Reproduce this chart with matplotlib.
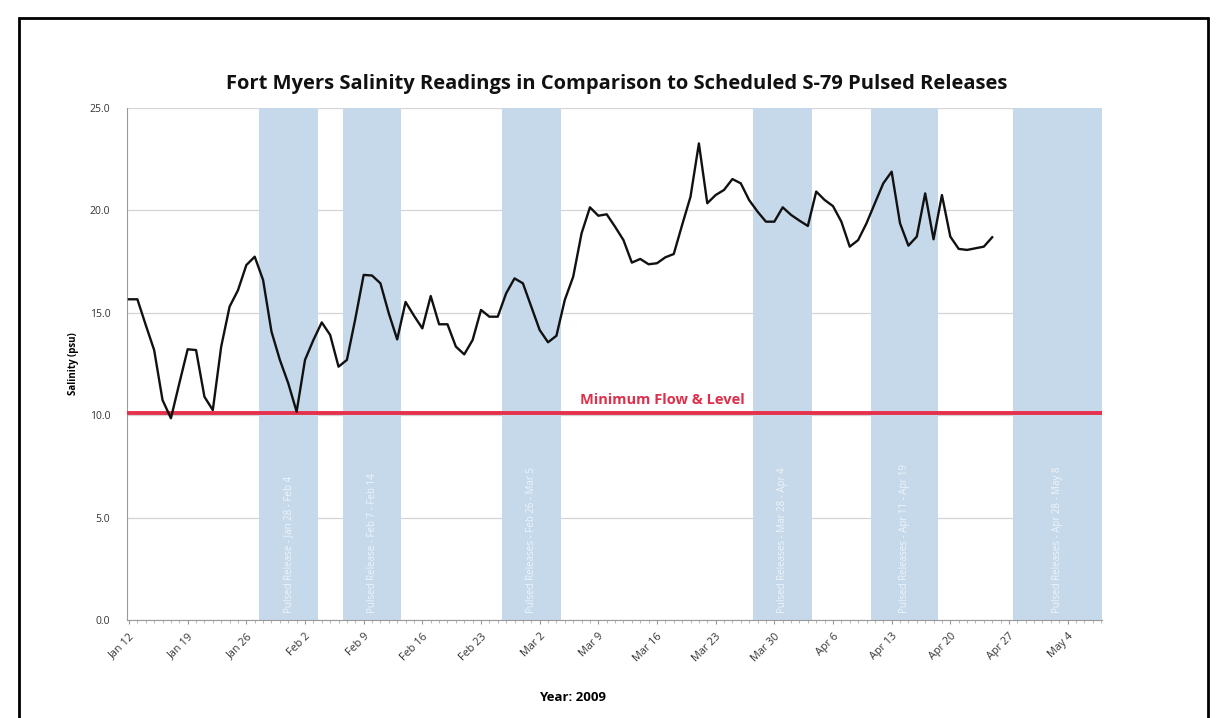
import numpy as np
import matplotlib
matplotlib.use("Agg")
import matplotlib.pyplot as plt
import matplotlib.dates as mdates
from matplotlib.patches import Rectangle

plt.rcParams['font.family'] = ['Open Sans', 'DejaVu Sans']

# ---- data ----
start_date = "2009-01-12"
salinity = [15.66, 15.66, 14.4, 13.18, 10.74, 9.85, 11.55, 13.22, 13.18, 10.9,
            10.25, 13.35, 15.3, 16.1, 17.33, 17.74, 16.6, 14.08, 12.7, 11.56,
            10.17, 12.7, 13.67, 14.53, 13.92, 12.37, 12.7, 14.7, 16.85, 16.82,
            16.44, 14.97, 13.7, 15.53, 14.86, 14.24, 15.82, 14.44, 14.44, 13.35,
            12.97, 13.67, 15.14, 14.81, 14.81, 15.95, 16.68, 16.44, 15.3, 14.16,
            13.56, 13.88, 15.63, 16.76, 18.88, 20.15, 19.74, 19.81, 19.2, 18.55,
            17.45, 17.63, 17.37, 17.42, 17.71, 17.87, 19.29, 20.67, 23.27, 20.35,
            20.75, 21.0, 21.53, 21.32, 20.5, 19.94, 19.45, 19.45, 20.15, 19.78,
            19.5, 19.24, 20.92, 20.51, 20.21, 19.45, 18.23, 18.55, 19.37, 20.35,
            21.32, 21.89, 19.37, 18.28, 18.72, 20.83, 18.59, 20.75, 18.72, 18.12,
            18.07, 18.15, 18.23, 18.69]

band_starts = ["2009-01-28", "2009-02-07", "2009-02-26", "2009-03-28", "2009-04-11", "2009-04-28"]
band_ends = ["2009-02-04", "2009-02-14", "2009-03-05", "2009-04-04", "2009-04-19", "2009-05-08"]
band_labels = ["Pulsed Release - Jan 28 - Feb 4",
               "Pulsed Release - Feb 7 - Feb 14",
               "Pulsed Releases - Feb 26 - Mar 5",
               "Pulsed Releases - Mar 28 - Apr 4",
               "Pulsed Releases - Apr 11 - Apr 19",
               "Pulsed Releases - Apr 28 - May 8"]

tick_dates = ["2009-01-12", "2009-01-19", "2009-01-26", "2009-02-02", "2009-02-09",
              "2009-02-16", "2009-02-23", "2009-03-02", "2009-03-09", "2009-03-16",
              "2009-03-23", "2009-03-30", "2009-04-06", "2009-04-13", "2009-04-20",
              "2009-04-27", "2009-05-04"]
tick_labels = ["Jan 12", "Jan 19", "Jan 26", "Feb 2", "Feb 9", "Feb 16", "Feb 23",
               "Mar 2", "Mar 9", "Mar 16", "Mar 23", "Mar 30", "Apr 6", "Apr 13",
               "Apr 20", "Apr 27", "May 4"]

min_flow_level = 10.1
y_ticks = [0, 5, 10, 15, 20, 25]

# ---- figure ----
W, H = 1217, 718
fig = plt.figure(figsize=(W / 100, H / 100), dpi=100)
fig.patch.set_facecolor("white")

def d2n(s):
    return mdates.date2num(np.datetime64(s))

x0 = d2n(start_date)
dates = x0 + np.arange(len(salinity))

AX_L, AX_R, AX_T, AX_B = 127, 1102, 108, 620
ax = fig.add_axes([AX_L / W, 1 - AX_B / H, (AX_R - AX_L) / W, (AX_B - AX_T) / H])
xl, xr = x0 - 0.24, x0 + 116.1
ax.set_xlim(xl, xr)
ax.set_ylim(0, 25)

band_color = "#c6d9ea"
for s, e, lab in zip(band_starts, band_ends, band_labels):
    a, b = d2n(s) - 0.5, d2n(e) - 0.5
    if xr - b < 1.0:
        b = xr
    ax.axvspan(a, b, color=band_color, lw=0, zorder=1)
    ax.text((a + b) / 2, 0.35, lab, rotation=90, ha="center", va="bottom",
            fontsize=7, color="#eef4f9", zorder=2)

ax.grid(axis="y", color="#d4d4d4", lw=0.9, zorder=0)
ax.set_axisbelow(True)

ax.axhline(min_flow_level, color="#e5314c", lw=2.8, zorder=3)
ax.text(d2n("2009-03-17") - 0.3, min_flow_level + 0.3, "Minimum Flow & Level",
        color="#de2f4b", fontsize=10.5, fontweight="bold", ha="center", va="bottom", zorder=4)

ax.plot(dates, salinity, color="#111111", lw=1.7, zorder=5)

ax.set_yticks(y_ticks)
ax.set_yticklabels([f"{v:.1f}" for v in y_ticks], fontsize=7.5, color="#333333")
ax.set_xticks([d2n(t) for t in tick_dates])
ax.set_xticklabels(tick_labels, rotation=45, ha="right", rotation_mode="anchor",
                   fontsize=7.8, color="#333333")
ax.xaxis.set_minor_locator(mdates.DayLocator())
ax.tick_params(axis="x", which="major", length=3, color="#999999", pad=5)
ax.tick_params(axis="x", which="minor", length=2, color="#aaaaaa")
ax.tick_params(axis="y", length=0, pad=12)

for sp in ["top", "right"]:
    ax.spines[sp].set_visible(False)
ax.spines["left"].set_color("#9a9a9a")
ax.spines["bottom"].set_color("#9a9a9a")

ax.set_ylabel("Salinity (psu)", fontsize=7, fontweight="bold", labelpad=8)
ax.set_xlabel("Year: 2009", fontsize=9.5, fontweight="bold", labelpad=4)
ax.xaxis.set_label_coords((573 - AX_L) / (AX_R - AX_L), -(691 - AX_B) / (AX_B - AX_T))

fig.text(617 / W, 1 - 84 / H,
         "Fort Myers Salinity Readings in Comparison to Scheduled S-79 Pulsed Releases",
         ha="center", va="center", fontsize=14.5, fontweight="bold", color="#111111")

# outer frame (bottom edge falls outside the image)
fig.add_artist(Rectangle((19 / W, -0.05), (1208 - 19) / W, 1 - 18 / H + 0.05,
                         transform=fig.transFigure, fill=False, edgecolor="black",
                         lw=2, clip_on=False))

fig.savefig("out.png", dpi=100)
